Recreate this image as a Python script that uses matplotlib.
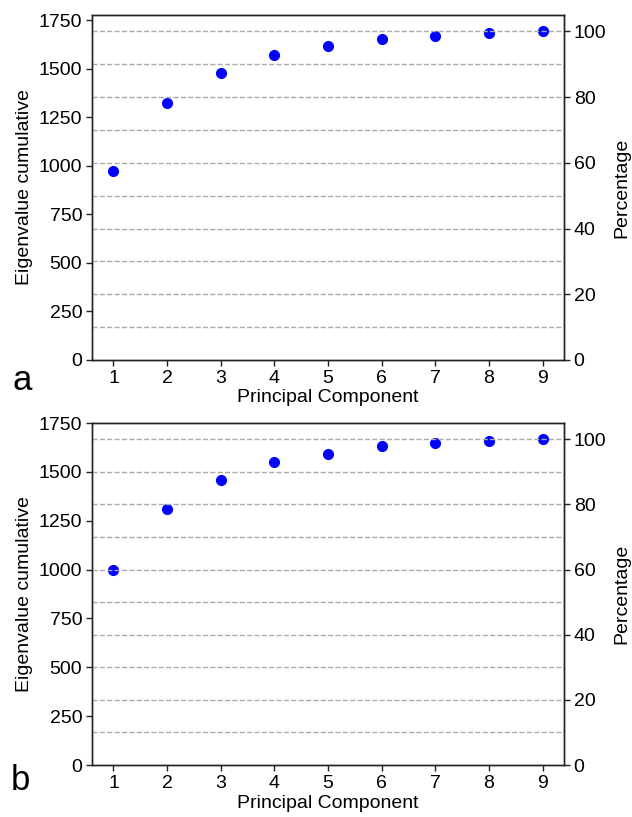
import matplotlib
matplotlib.use('Agg')
import matplotlib.pyplot as plt
import numpy as np

plt.rcParams['font.family'] = ['Liberation Sans', 'DejaVu Sans']
plt.rcParams['font.size'] = 14

# Cumulative eigenvalues per principal component
components = [1, 2, 3, 4, 5, 6, 7, 8, 9]
cum_a = [972, 1325, 1476, 1571, 1619, 1653, 1670, 1682, 1692]
cum_b = [999, 1309, 1457, 1549, 1593, 1631, 1648, 1658, 1667]
panel_labels = ['a', 'b']

fig = plt.figure(figsize=(6.32, 8.17), dpi=100)
positions = [[0.1456, 0.5594, 0.7468, 0.4222],
             [0.1456, 0.0636, 0.7468, 0.4186]]
label_pos = [(12 / 632, 1 - 390 / 817), (11 / 632, 1 - 790 / 817)]


def draw_panel(pos, values, label, lpos):
    ax = fig.add_axes(pos)
    total = values[-1]
    ax.plot(components, values, 'o', color='blue', markersize=7, zorder=3)
    ax.set_xlim(0.6, 9.4)
    ax.set_ylim(0, total * 1.05)
    ax.set_xticks(components)
    ax.set_yticks([0, 250, 500, 750, 1000, 1250, 1500, 1750])
    ax.set_xlabel('Principal Component', labelpad=2)
    ax.set_ylabel('Eigenvalue cumulative', labelpad=4)

    ax2 = ax.twinx()
    ax2.set_ylim(0, 105)
    ax2.set_yticks([0, 20, 40, 60, 80, 100])
    ax2.set_ylabel('Percentage', labelpad=5)
    for p in range(10, 101, 10):
        ax2.axhline(p, color='#aaaaaa', linestyle='--', linewidth=1, zorder=1)

    for a in (ax, ax2):
        for s in a.spines.values():
            s.set_color('#222222')
            s.set_linewidth(1)
        a.tick_params(length=4, width=1, color='#222222', pad=3)
    fig.text(lpos[0], lpos[1], label, fontsize=25, ha='left', va='baseline')


for pos, vals, lab, lp in zip(positions, [cum_a, cum_b], panel_labels, label_pos):
    draw_panel(pos, vals, lab, lp)

fig.savefig('out.png', dpi=100)
